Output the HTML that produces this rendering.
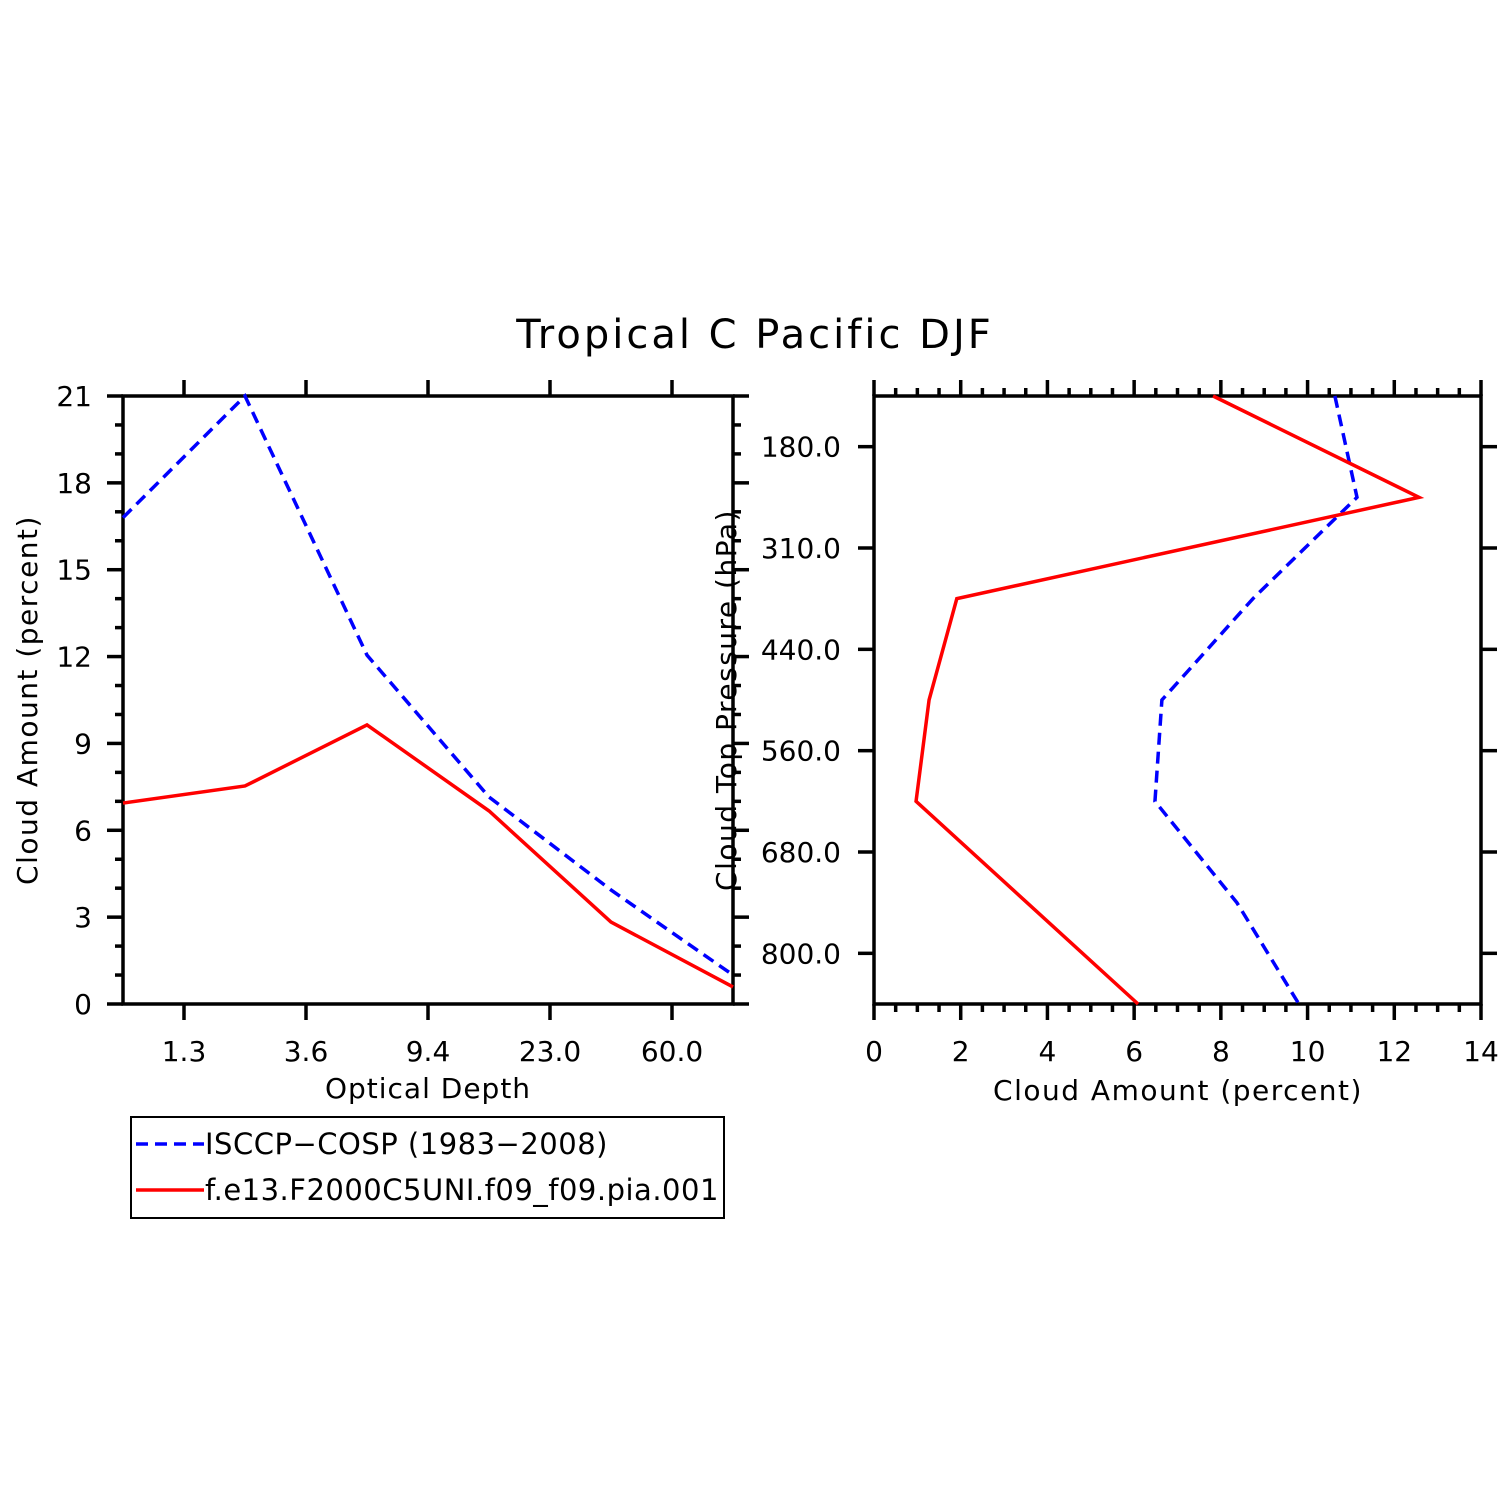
<!DOCTYPE html>
<html><head><meta charset="utf-8"><style>
html,body{margin:0;padding:0;background:#fff}
svg{display:block}
text{font-family:"DejaVu Sans","Liberation Sans",sans-serif;fill:#000}
</style></head><body>
<svg id="c" width="1510" height="1510" viewBox="0 0 1510 1510">
<text x="755" y="348" font-size="40" text-anchor="middle" letter-spacing="3">Tropical C Pacific DJF</text>
<g id="L"></g>
<g id="R"></g>
<g>
<rect x="131" y="1117" width="593" height="101" fill="none" stroke="#000" stroke-width="2"/>
<line x1="136" y1="1144" x2="204" y2="1144" stroke="#00f" stroke-width="3.5" stroke-dasharray="12,7"/>
<text x="205" y="1154" font-size="29" letter-spacing="0.5">ISCCP−COSP (1983−2008)</text>
<line x1="136" y1="1190" x2="204" y2="1190" stroke="#f00" stroke-width="3.5"/>
<text x="205" y="1200" font-size="29" letter-spacing="0.5">f.e13.F2000C5UNI.f09_f09.pia.001</text>
</g>
</svg>
<script>
const odCategories = [0, 1, 2, 3, 4, 5];
const odTickLabels = ["1.3", "3.6", "9.4", "23.0", "60.0"];
const odIsccp = [16.8, 21.0, 12.05, 7.15, 3.94, 1.0];
const odModel = [6.94, 7.53, 9.64, 6.67, 2.83, 0.59];
const leftYTicks = [0, 3, 6, 9, 12, 15, 18, 21];

const pLevels = [0, 1, 2, 3, 4, 5, 6];
const pTickLabels = ["180.0", "310.0", "440.0", "560.0", "680.0", "800.0"];
const pIsccp = [10.63, 11.14, 8.74, 6.64, 6.48, 8.37, 9.80];
const pModel = [7.82, 12.57, 1.91, 1.27, 0.97, 3.53, 6.09];
const rightXTicks = [0, 2, 4, 6, 8, 10, 12, 14];

const NS = "http://www.w3.org/2000/svg";
function mk(parent, tag, attrs) { const e = document.createElementNS(NS, tag); for (const k in attrs) e.setAttribute(k, attrs[k]); parent.appendChild(e); return e; }
const SW = 3.5;

// Left panel
const L = document.getElementById('L');
const lx0 = 123, lx1 = 733, ly0 = 1004, ly1 = 396;
const lx = i => lx0 + (lx1 - lx0) * i / 5;
const ly = v => ly0 - (ly0 - ly1) * v / 21;
let e;
e = mk(L, 'rect', {x: lx0, y: ly1, width: lx1 - lx0, height: ly0 - ly1, fill: 'none', stroke: '#000', 'stroke-width': SW});


for (let v = 0; v <= 21; v++) {
  const major = v % 3 === 0, len = major ? 16 : 8;
  e = mk(L, 'line', {x1: lx0 - len, x2: lx0, y1: ly(v), y2: ly(v), stroke: '#000', 'stroke-width': SW});
  
  
  e = mk(L, 'line', {x1: lx1, x2: lx1 + len, y1: ly(v), y2: ly(v), stroke: '#000', 'stroke-width': SW});
  
  
}
leftYTicks.forEach(v => {
  const t = mk(L, 'text', {x: 92, y: ly(v) + 10, 'font-size': 28, 'text-anchor': 'end'});
  t.textContent = v;
  
  
});
odTickLabels.forEach((lab, i) => {
  const x = lx(i + 0.5);
  e = mk(L, 'line', {x1: x, x2: x, y1: ly0, y2: ly0 + 16, stroke: '#000', 'stroke-width': SW});
  
  
  e = mk(L, 'line', {x1: x, x2: x, y1: ly1 - 16, y2: ly1, stroke: '#000', 'stroke-width': SW});
  
  
  const t = mk(L, 'text', {x: x, y: 1061, 'font-size': 28, 'text-anchor': 'middle'});
  t.textContent = lab;
  
  
});
let t = mk(L, 'text', {x: 428, y: 1098, 'font-size': 28, 'text-anchor': 'middle', 'letter-spacing': 1});
t.textContent = 'Optical Depth';


t = mk(L, 'text', {x: 0, y: 0, 'font-size': 28, 'text-anchor': 'middle', 'letter-spacing': 1.5, transform: 'translate(37,700) rotate(-90)'});
t.textContent = 'Cloud Amount (percent)';


e = mk(L, 'polyline', {points: odCategories.map(i => lx(i) + ',' + ly(odIsccp[i])).join(' '), fill: 'none', stroke: '#00f', 'stroke-width': SW, 'stroke-dasharray': '12,7'});


e = mk(L, 'polyline', {points: odCategories.map(i => lx(i) + ',' + ly(odModel[i])).join(' '), fill: 'none', stroke: '#f00', 'stroke-width': SW});



// Right panel
const R = document.getElementById('R');
const rx0 = 874, rx1 = 1481, ry0 = 396, ry1 = 1004;
const rx = v => rx0 + (rx1 - rx0) * v / 14;
const ry = i => ry0 + (ry1 - ry0) * i / 6;
const ryTick = i => ry(i + 0.5);
e = mk(R, 'rect', {x: rx0, y: ry0, width: rx1 - rx0, height: ry1 - ry0, fill: 'none', stroke: '#000', 'stroke-width': SW});


for (let v = 0; v <= 14; v += 0.5) {
  const major = v % 2 === 0, len = major ? 16 : 8;
  e = mk(R, 'line', {x1: rx(v), x2: rx(v), y1: ry1, y2: ry1 + len, stroke: '#000', 'stroke-width': SW});
  
  
  e = mk(R, 'line', {x1: rx(v), x2: rx(v), y1: ry0 - len, y2: ry0, stroke: '#000', 'stroke-width': SW});
  
  
}
rightXTicks.forEach(v => {
  const tt = mk(R, 'text', {x: rx(v), y: 1061, 'font-size': 28, 'text-anchor': 'middle'});
  tt.textContent = v;
  
  
});
pTickLabels.forEach((lab, i) => {
  const y = ryTick(i);
  e = mk(R, 'line', {x1: rx0 - 16, x2: rx0, y1: y, y2: y, stroke: '#000', 'stroke-width': SW});
  
  
  e = mk(R, 'line', {x1: rx1, x2: rx1 + 16, y1: y, y2: y, stroke: '#000', 'stroke-width': SW});
  
  
  const tt = mk(R, 'text', {x: 841, y: y + 10, 'font-size': 28, 'text-anchor': 'end'});
  tt.textContent = lab;
  
  
});
t = mk(R, 'text', {x: 1178, y: 1100, 'font-size': 28, 'text-anchor': 'middle', 'letter-spacing': 1.5});
t.textContent = 'Cloud Amount (percent)';


t = mk(R, 'text', {x: 0, y: 0, 'font-size': 28, 'text-anchor': 'middle', 'letter-spacing': 1.5, transform: 'translate(736,700) rotate(-90)'});
t.textContent = 'Cloud Top Pressure (hPa)';


e = mk(R, 'polyline', {points: pLevels.map(i => rx(pIsccp[i]) + ',' + ry(i)).join(' '), fill: 'none', stroke: '#00f', 'stroke-width': SW, 'stroke-dasharray': '12,7'});


e = mk(R, 'polyline', {points: pLevels.map(i => rx(pModel[i]) + ',' + ry(i)).join(' '), fill: 'none', stroke: '#f00', 'stroke-width': SW});


</script>
</body></html>
